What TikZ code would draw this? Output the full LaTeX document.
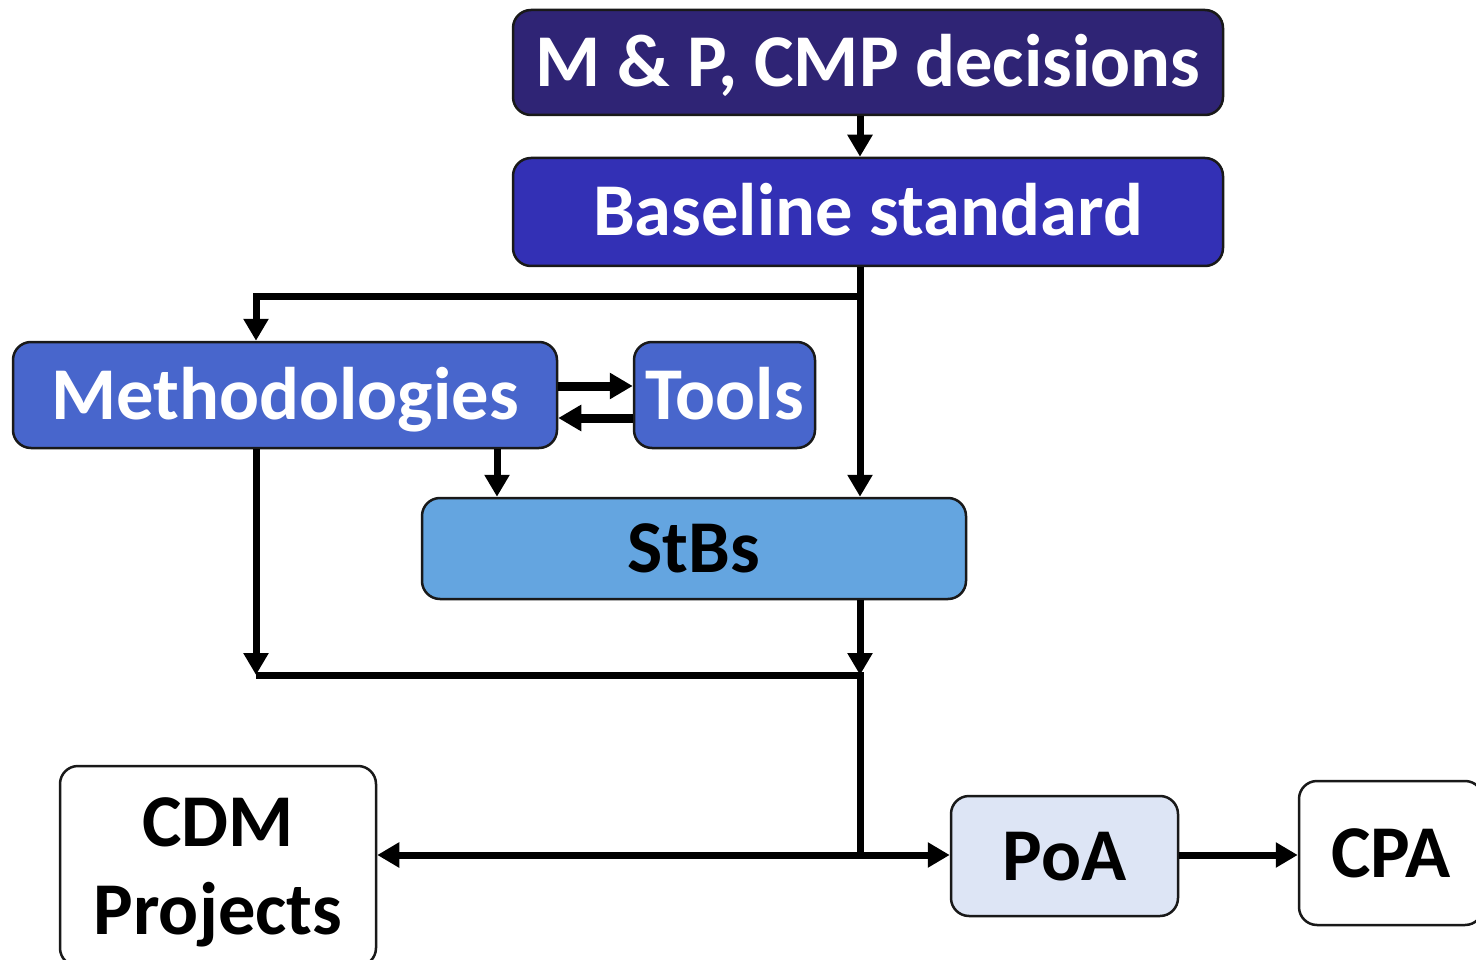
\documentclass[tikz,border=0pt]{standalone}
\usepackage{fontspec}
\setmainfont{Carlito}
\usetikzlibrary{arrows.meta}
\definecolor{cMP}{RGB}{47,36,117}
\definecolor{cBS}{RGB}{51,48,181}
\definecolor{cME}{RGB}{72,102,204}
\definecolor{cST}{RGB}{100,165,224}
\definecolor{cPO}{RGB}{221,229,245}
\tikzset{
  box/.style={draw=black!90, line width=2.5pt, rounded corners=18pt, inner sep=0pt,
    font=\fontsize{74.5}{88}\selectfont\bfseries, text height=48pt, text depth=0pt, align=center},
  wbox/.style={box, fill=white, text=black},
  conn/.style={line width=7pt, -{Triangle[length=22pt,width=24pt]}},
  plain/.style={line width=7pt},
  tconn/.style={line width=9pt, -{Triangle[length=23pt,width=25pt]}},
}
\begin{document}
\begin{tikzpicture}[x=1pt,y=-1pt]
\useasboundingbox (0,0) rectangle (1476,960);
\fill[white] (0,0) rectangle (1476,960);
% boxes
\node[box, fill=cMP, text=white, minimum width=710pt, minimum height=105pt] (mp) at (868,62.5) {M \& P, CMP decisions};
\node[box, fill=cBS, text=white, minimum width=710pt, minimum height=108pt] (bs) at (868,212) {Baseline standard};
\node[box, fill=cME, text=white, minimum width=544pt, minimum height=106pt] (meth) at (285,395) {Methodologies};
\node[box, fill=cME, text=white, minimum width=181pt, minimum height=106pt] (tools) at (724.5,395) {Tools};
\node[box, fill=cST, text=black, minimum width=544pt, minimum height=101pt] (stbs) at (694,548.5) {StBs};
\node[wbox, minimum width=316pt, minimum height=200pt, text height=136pt] (cdm) at (218,866) {CDM\\Projects};
\node[box, fill=cPO, text=black, minimum width=227pt, minimum height=120pt] (poa) at (1064.5,856) {PoA};
\node[wbox, minimum width=184pt, minimum height=144pt] (cpa) at (1391,853) {CPA};
% helper coordinates
\coordinate (trunk) at (860,0);
\coordinate (leftx) at (256,0);
\coordinate (midx) at (497,0);
\coordinate (j1) at (860,297);
\coordinate (j2) at (860,675);
\coordinate (j3) at (860,855);
\coordinate (l2) at (256,675);
% connectors
\draw[conn] (mp.south -| trunk) -- (bs.north -| trunk);
\draw[conn] (bs.south -| trunk) -- (stbs.north -| trunk);
\draw[conn] (j1) -| (meth.north -| leftx);
\draw[conn] (meth.south -| midx) -- (stbs.north -| midx);
\draw[tconn] (meth.east |- 0,386) -- (tools.west |- 0,386);
\draw[tconn] (tools.west |- 0,418) -- (meth.east |- 0,418);
\draw[conn] (meth.south -| leftx) -- (l2);
\draw[conn] (stbs.south -| trunk) -- (j2);
\draw[plain] (l2) -- (j2) -- (j3);
\draw[conn] (j3) -- (cdm.east |- j3);
\draw[conn] (j3) -- (poa.west |- j3);
\draw[conn] (poa.east |- j3) -- (cpa.west |- j3);
\end{tikzpicture}
\end{document}
